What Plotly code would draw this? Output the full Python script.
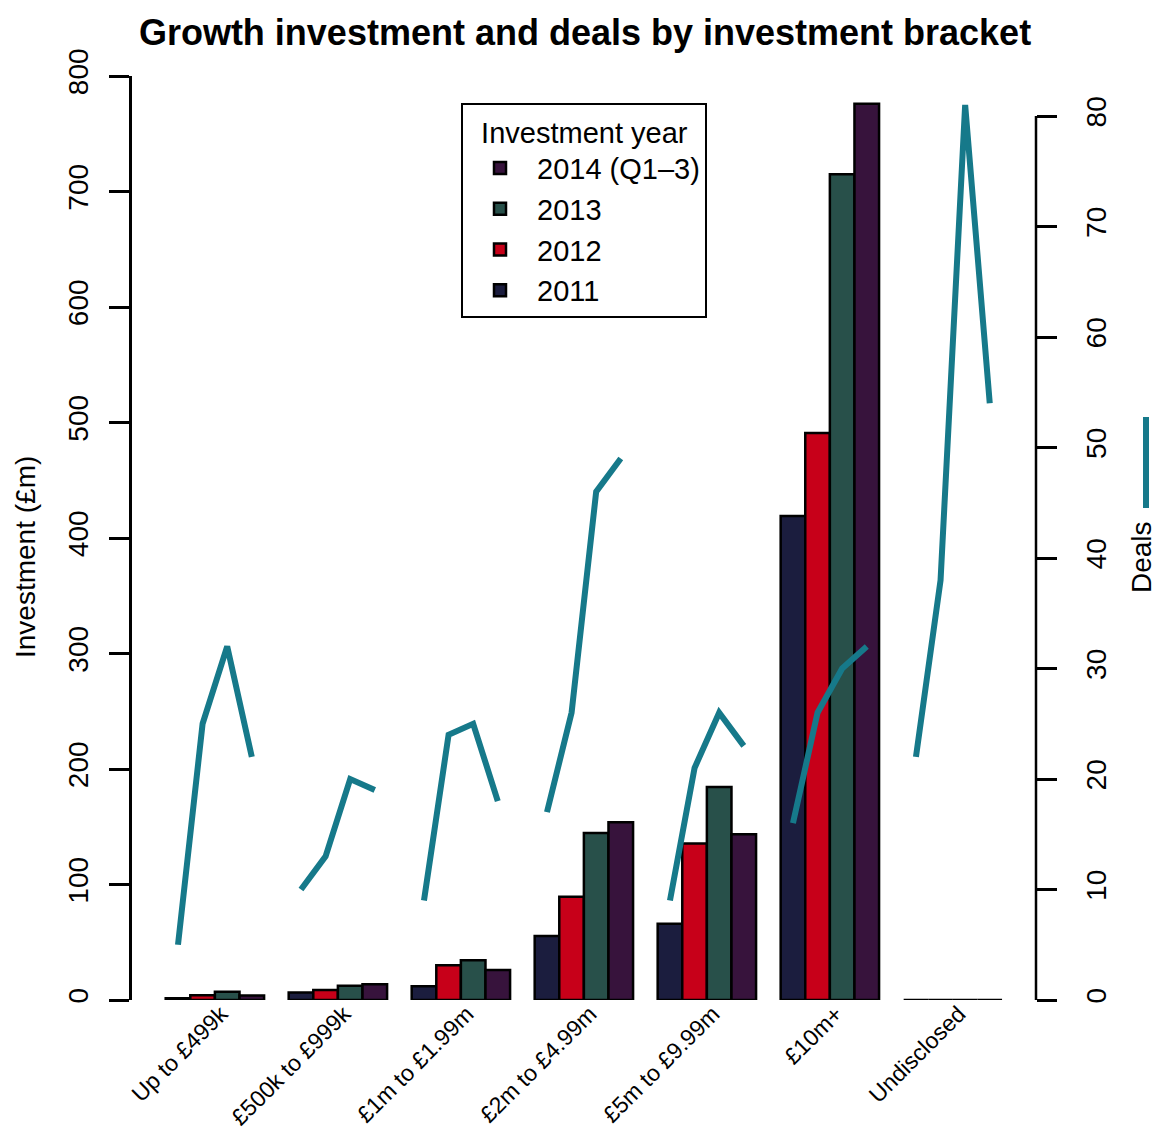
import plotly.graph_objects as go

W, H = 1159, 1133

brackets = [
    "Up to £499k",
    "£500k to £999k",
    "£1m to £1.99m",
    "£2m to £4.99m",
    "£5m to £9.99m",
    "£10m+",
    "Undisclosed",
]
years = ["2011", "2012", "2013", "2014 (Q1–3)"]

# investment (£m) per bracket
invest_2011 = [1.5, 6.6, 12, 55.5, 66, 419, 0]
invest_2012 = [4.2, 8.7, 30, 89.5, 135.5, 491, 0]
invest_2013 = [7.2, 12.4, 34.5, 144.6, 184.5, 715, 0]
invest_2014 = [4, 13.6, 26, 154, 143.5, 776, 0]

# number of deals per bracket
deals_2011 = [5, 10, 9, 17, 9, 16, 22]
deals_2012 = [25, 13, 24, 26, 21, 26, 38]
deals_2013 = [32, 20, 25, 46, 26, 30, 81]
deals_2014 = [22, 19, 18, 49, 23, 32, 54]

investment = [invest_2011, invest_2012, invest_2013, invest_2014]
deals = [deals_2011, deals_2012, deals_2013, deals_2014]
colors = ["#1b1d3e", "#c70019", "#28504a", "#37133c"]
line_color = "#16798a"
FONT = "Liberation Sans, Arial, sans-serif"


def px_x(p):
    return p / W


def px_y(p):
    return 1 - p / H


# R barplot(beside=TRUE) layout: bar width 1, one unit gap between groups
def bar_pos(i, j):
    return i * 5 + 1.5 + j


fig = go.Figure()

for j, year in enumerate(years):
    fig.add_trace(
        go.Bar(
            x=[bar_pos(i, j) for i in range(len(brackets))],
            y=investment[j],
            width=1,
            name=year,
            marker={"color": colors[j], "line": {"color": "black", "width": 2.5}},
        )
    )

line_x, line_y = [], []
for i in range(len(brackets)):
    for j in range(len(years)):
        line_x.append(bar_pos(i, j))
        line_y.append(deals[j][i])
    line_x.append(None)
    line_y.append(None)

fig.add_trace(
    go.Scatter(
        x=line_x,
        y=line_y,
        yaxis="y2",
        mode="lines",
        line={"color": line_color, "width": 6},
        showlegend=False,
        connectgaps=False,
    )
)

fig.update_layout(
    width=W,
    height=H,
    margin={"l": 0, "r": 0, "t": 0, "b": 0},
    paper_bgcolor="white",
    plot_bgcolor="white",
    barmode="overlay",
    font={"family": FONT, "color": "black"},
    title={
        "text": "<b>Growth investment and deals by investment bracket</b>",
        "x": px_x(585),
        "xanchor": "center",
        "y": px_y(32),
        "yanchor": "middle",
        "font": {"size": 36, "family": FONT},
    },
    xaxis={
        "domain": [px_x(132), px_x(1036)],
        "range": [-0.37, 36.38],
        "tickvals": [i * 5 + 3 for i in range(len(brackets))],
        "ticktext": brackets,
        "tickangle": -45,
        "tickfont": {"size": 23},
        "ticks": "",
        "showline": False,
        "showgrid": False,
        "zeroline": False,
        "automargin": False,
        "ticklabelstandoff": -5,
        "ticklabelshift": 6,
    },
    yaxis={
        "domain": [px_y(1000), px_y(76)],
        "range": [0, 800],
        "tickvals": list(range(0, 801, 100)),
        "tickangle": -90,
        "tickfont": {"size": 28},
        "ticks": "outside",
        "ticklen": 20,
        "tickwidth": 2.5,
        "tickcolor": "black",
        "showline": True,
        "linewidth": 2.5,
        "linecolor": "black",
        "showgrid": False,
        "zeroline": False,
        "automargin": False,
        "ticklabelstandoff": 10,
    },
    yaxis2={
        "overlaying": "y",
        "side": "right",
        "range": [0, (1000 - 76) / 11.05],
        "tickvals": list(range(0, 81, 10)),
        "tickangle": -90,
        "tickfont": {"size": 28},
        "ticks": "outside",
        "ticklen": 20,
        "tickwidth": 2.5,
        "tickcolor": "black",
        "showline": False,
        "showgrid": False,
        "zeroline": False,
        "automargin": False,
        "ticklabelstandoff": 15,
    },
    legend={
        "x": px_x(461),
        "y": px_y(103),
        "xanchor": "left",
        "yanchor": "top",
        "traceorder": "reversed",
        "bordercolor": "black",
        "borderwidth": 2,
        "bgcolor": "white",
        "font": {"size": 29},
        "title": {"text": "\u00a0\u00a0Investment year", "font": {"size": 29}},
        "itemwidth": 64,
    },
    annotations=[
        {
            "text": "Investment (£m)",
            "xref": "paper",
            "yref": "paper",
            "x": px_x(25),
            "y": px_y(557),
            "xanchor": "center",
            "yanchor": "middle",
            "textangle": -90,
            "showarrow": False,
            "font": {"size": 28},
        },
        {
            "text": "Deals",
            "xref": "paper",
            "yref": "paper",
            "x": px_x(1141),
            "y": px_y(557),
            "xanchor": "center",
            "yanchor": "middle",
            "textangle": -90,
            "showarrow": False,
            "borderpad": 0,
            "font": {"size": 28},
        },
    ],
    shapes=[
        # right axis line only spans the 0-80 tick range
        {
            "type": "line",
            "xref": "x domain",
            "yref": "y2",
            "x0": 1,
            "x1": 1,
            "y0": 0,
            "y1": 80,
            "line": {"color": "black", "width": 2.5},
        },
        # line key next to the "Deals" label
        {
            "type": "line",
            "xref": "paper",
            "yref": "paper",
            "x0": px_x(1146),
            "x1": px_x(1146),
            "y0": px_y(508),
            "y1": px_y(417),
            "line": {"color": line_color, "width": 6},
        },
    ],
)

fig.write_html(
    "out.html",
    config={"displayModeBar": False},
    post_script="document.body.style.margin='0';",
)
